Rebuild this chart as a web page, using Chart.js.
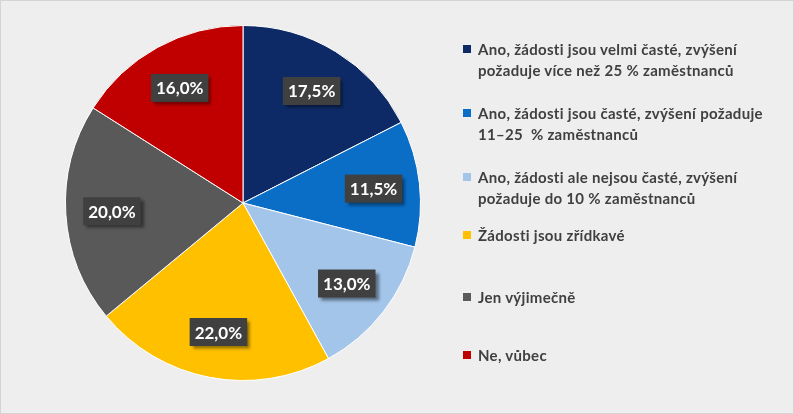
<!DOCTYPE html>
<html><head><meta charset="utf-8">
<script src="https://cdn.jsdelivr.net/npm/chart.js@4"></script>
<style>
html,body{margin:0;padding:0;width:794px;height:414px;overflow:hidden;background:#fff}
#wrap{position:absolute;left:0;top:0;width:792px;height:412px;background:#eeeeee;border:1px solid #d4d4d4}
#c{position:absolute;left:0;top:0}
#legend{position:absolute;left:462px;top:38px;width:320px;font-family:Lato,"DejaVu Sans",sans-serif;font-weight:bold;font-size:15px;letter-spacing:0.3px;color:#404040;line-height:21px}
.item{position:absolute;left:0;width:320px}
.sw{position:absolute;left:0;top:6px;width:8px;height:8px}
.tx{margin-left:15px;width:290px}
</style></head><body>
<div id="wrap"><canvas id="c" width="794" height="414"></canvas><div id="legend"></div></div>
<script>
const categories = [
 "Ano, žádosti jsou velmi časté, zvýšení požaduje více než 25 % zaměstnanců",
 "Ano, žádosti jsou časté, zvýšení požaduje 11–25 % zaměstnanců",
 "Ano, žádosti ale nejsou časté, zvýšení požaduje do 10 % zaměstnanců",
 "Žádosti jsou zřídkavé",
 "Jen výjimečně",
 "Ne, vůbec"
];
const values = [17.5, 11.5, 13.0, 22.0, 20.0, 16.0];
const colors = ["#0e2a66", "#0a6ec6", "#a3c5ea", "#ffc000", "#595959", "#c00000"];
const legendTops = [0, 64, 128, 186, 248, 306];

const lg = document.getElementById('legend');
categories.forEach((c,i)=>{
  const d=document.createElement('div');d.className='item';d.style.top=legendTops[i]+'px';
  const sw=document.createElement('div');sw.className='sw';sw.style.background=colors[i];
  const tx=document.createElement('div');tx.className='tx';tx.textContent=c.replace('11–25','11–25\u00a0');
  d.appendChild(sw);d.appendChild(tx);lg.appendChild(d);
});

const labelPlugin={id:'lbl',afterDatasetsDraw(chart){
  const ctx=chart.ctx;const meta=chart.getDatasetMeta(0);
  ctx.save();
  ctx.font='bold 17px Lato, "DejaVu Sans", sans-serif';
  ctx.textAlign='center';ctx.textBaseline='middle';
  meta.data.forEach((arc,i)=>{
    const a=(arc.startAngle+arc.endAngle)/2, r=arc.outerRadius*0.74;
    const x=arc.x+Math.cos(a)*r, y=arc.y+Math.sin(a)*r;
    const t=values[i].toFixed(1).replace('.',',')+'%';
    const w=ctx.measureText(t).width+10, h=28;
    ctx.shadowColor='rgba(0,0,0,0.45)';ctx.shadowOffsetX=3;ctx.shadowOffsetY=3;ctx.shadowBlur=3;
    ctx.fillStyle='#404040';ctx.fillRect(x-w/2,y-h/2,w,h);
    ctx.shadowColor='transparent';
    ctx.fillStyle='#fff';ctx.fillText(t,x,y+1);
  });
  ctx.restore();
}};

new Chart(document.getElementById('c'),{
  type:'pie',
  data:{labels:categories,datasets:[{data:values,backgroundColor:colors,borderColor:'#ffffff',borderWidth:1}]},
  options:{responsive:false,animation:false,
    layout:{padding:{left:0,right:310,top:24,bottom:34}},
    plugins:{legend:{display:false},tooltip:{enabled:false}}},
  plugins:[labelPlugin]
});
</script></body></html>
